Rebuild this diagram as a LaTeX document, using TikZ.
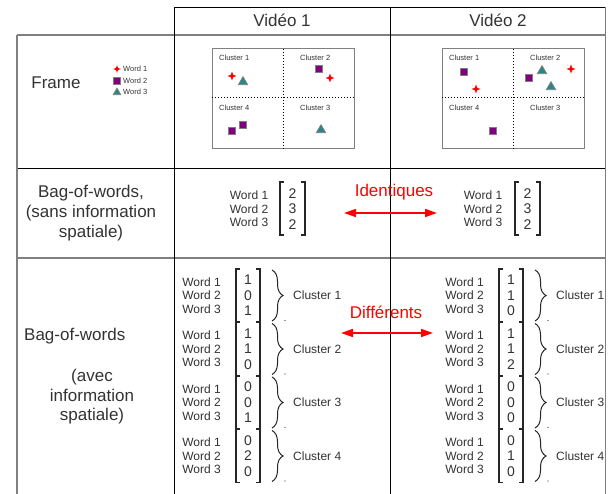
\documentclass[tikz,border=0pt]{standalone}
\usepackage{fontspec}
\setmainfont{Liberation Sans}
\usetikzlibrary{arrows.meta,shapes.geometric,decorations.pathreplacing}
\definecolor{txt}{HTML}{333333}
\definecolor{gline}{HTML}{808080}
\definecolor{vpurple}{HTML}{800080}
\definecolor{vteal}{HTML}{2E8585}
\tikzset{
  big/.style={font=\fontsize{17}{20}\selectfont, text=txt, align=center, inner sep=0},
  wordlist/.style={font=\fontsize{12}{13.5}\selectfont, text=txt, align=left, inner sep=0},
  numlist/.style={font=\fontsize{14}{15.5}\selectfont, text=txt, align=center, inner sep=0},
  cl/.style={font=\fontsize{12}{13}\selectfont, text=txt, inner sep=0, anchor=west},
  small/.style={font=\fontsize{7.5}{9}\selectfont, text=txt, inner sep=0, anchor=west},
  red lbl/.style={font=\fontsize{17}{20}\selectfont, text=red, inner sep=0},
  sq/.style={draw=gline, fill=vpurple, line width=1pt, minimum size=7.5pt, inner sep=0},
  tri/.style={regular polygon, regular polygon sides=3, draw=gline, fill=vteal, line width=0.6pt, minimum size=11pt, inner sep=0},
  st/.style={circle, minimum size=11pt, inner sep=0, draw=none,
    path picture={\fill[red] (path picture bounding box.center) ++(0,4.5) -- ++(1.2,-3.3) -- ++(3.3,-1.2) -- ++(-3.3,-1.2) -- ++(-1.2,-3.3) -- ++(-1.2,3.3) -- ++(-3.3,1.2) -- ++(3.3,1.2) -- cycle;
      \fill[red] (path picture bounding box.center) ++(-4,-4) circle (0.5) ++(8,0) circle (0.5) ++(0,8) circle (0.4);}},
  bline/.style={line width=0.9pt, black},
  gl/.style={line width=1.3pt, gline},
  brk/.style={line width=1.3pt, black!85},
  brc/.style={line width=1pt, black!85, decorate, decoration={brace, amplitude=11pt}},
  frm/.style={draw=gline, line width=1pt},
  dv/.style={black, dotted, line width=1pt},
  rarrow/.style={red, line width=1.6pt, {Triangle[length=12pt,width=8pt]}-{Triangle[length=12pt,width=8pt]}},
}
\begin{document}
\begin{tikzpicture}[x=1pt,y=-1pt]
\useasboundingbox (0,0) rectangle (611,494);
\fill[white] (0,0) rectangle (611,494);

% table lines
\coordinate (h0) at (174,7);
\coordinate (h1) at (605,7);
\draw[bline] (h0) -- (h1);
\coordinate (ll0) at (17,35); \coordinate (lr0) at (605,35);
\draw[gl] (ll0) -- (lr0);
\coordinate (ll1) at (17,168); \coordinate (lr1) at (605,168);
\draw[bline] (ll1) -- (lr1);
\coordinate (ll2) at (17,258); \coordinate (lr2) at (605,258);
\draw[gl] (ll2) -- (lr2);
\coordinate (lb) at (17,494);
\draw[gl] (ll0) -- (lb);
\coordinate (v1b) at (174,494); \draw[bline] (h0) -- (v1b);
\coordinate (v2t) at (390,7); \coordinate (v2b) at (390,494); \draw[bline] (v2t) -- (v2b);
\coordinate (v3b) at (605,494); \draw[gl, line width=1pt] (h1) -- (v3b);

% headers
\node[big] (hv1) at (282,20) {Vidéo 1};
\node[big] (hv2) at (498,20) {Vidéo 2};

% row labels
\node[big] (rframe) at (56,83) {Frame};
\node[big] (rbag) at (91,213) {Bag-of-words,\\(sans information\\spatiale)};
\node[big, anchor=west] (rbag2) at (24,336) {Bag-of-words};
\node[big, font=\fontsize{17}{19.5}\selectfont] (ravec) at (92,397) {(avec\\information\\spatiale)};

% legend
\node[st, scale=0.85] (lg1) at (117,69) {};
\node[small] (lgt1) at (123,69) {Word 1};
\node[sq, minimum size=7pt] (lg2) at (117,81) {};
\node[small] (lgt2) at (123,81) {Word 2};
\node[tri, minimum size=9pt] (lg3) at (117,92.5) {};
\node[small] (lgt3) at (123,92) {Word 3};

% frame video 1
\draw[frm] (212,49) rectangle (354,149);
\draw[dv] (283,49) -- (283,149);
\draw[dv] (212,98) -- (354,98);
\node[small] (f1c1) at (219,58) {Cluster 1};
\node[small] (f1c2) at (300,58) {Cluster 2};
\node[small] (f1c4) at (219,108) {Cluster 4};
\node[small] (f1c3) at (300,108) {Cluster 3};
\node[st] (a1) at (232,76) {};
\node[tri] (a2) at (243,82) {};
\node[sq] (a3) at (319,69) {};
\node[st] (a4) at (330,78) {};
\node[sq] (a5) at (232,131) {};
\node[sq] (a6) at (243,125) {};
\node[tri] (a7) at (321,130) {};

% frame video 2
\draw[frm] (442,49) rectangle (584,149);
\draw[dv] (513,49) -- (513,149);
\draw[dv] (442,98) -- (584,98);
\node[small] (f2c1) at (449,58) {Cluster 1};
\node[small] (f2c2) at (530,58) {Cluster 2};
\node[small] (f2c4) at (449,108) {Cluster 4};
\node[small] (f2c3) at (530,108) {Cluster 3};
\node[sq] (b1) at (464,72) {};
\node[st] (b2) at (476,89) {};
\node[sq] (b3) at (529,78) {};
\node[tri] (b4) at (542,71) {};
\node[tri] (b5) at (551,87) {};
\node[st] (b6) at (571,69) {};
\node[sq] (b7) at (493,131) {};

% bag without spatial info
\node[wordlist] (w1) at (249,209) {Word 1\\Word 2\\Word 3};
\node[numlist] (n1) at (292.5,209) {2\\3\\2};
\draw[brk] (284,182) -- (280,182) -- (280,235) -- (284,235);
\draw[brk] (301,182) -- (305,182) -- (305,235) -- (301,235);
\node[wordlist] (w2) at (483,209) {Word 1\\Word 2\\Word 3};
\node[numlist] (n2) at (527.5,209) {2\\3\\2};
\draw[brk] (519,182) -- (515,182) -- (515,235) -- (519,235);
\draw[brk] (536,182) -- (540,182) -- (540,235) -- (536,235);

\node[red lbl] (ident) at (394,192) {Identiques};
\coordinate (ia) at (344,213); \coordinate (ib) at (437,213);
\draw[rarrow] (ia) -- (ib);

% bag with spatial info
\foreach \v/\dx in {1/0, 2/263} {
  \foreach \g/\c in {1/295.5, 2/349, 3/402.5, 4/456} {
    \node[wordlist] (sw\v\g) at (201.5+\dx,\c) {Word 1\\Word 2\\Word 3};
    \draw[brk] (240+\dx,\c-26.5) -- (236+\dx,\c-26.5) -- (236+\dx,\c+26.5) -- (240+\dx,\c+26.5);
    \draw[brk] (256+\dx,\c-26.5) -- (260+\dx,\c-26.5) -- (260+\dx,\c+26.5) -- (256+\dx,\c+26.5);
    \draw[brc] (272+\dx,\c-25.5) -- (272+\dx,\c+25.5);
    \node[cl] (cl\v\g) at (293+\dx,\c) {Cluster \g};
    \fill[black!80] (285+\dx,\c+25) circle (0.6);
  }
}
\node[numlist] (sn11) at (248,295.5) {1\\0\\1};
\node[numlist] (sn12) at (248,349) {1\\1\\0};
\node[numlist] (sn13) at (248,402.5) {0\\0\\1};
\node[numlist] (sn14) at (248,456) {0\\2\\0};
\node[numlist] (sn21) at (511,295.5) {1\\1\\0};
\node[numlist] (sn22) at (511,349) {1\\1\\2};
\node[numlist] (sn23) at (511,402.5) {0\\0\\0};
\node[numlist] (sn24) at (511,456) {0\\1\\0};

\node[red lbl] (diff) at (386,312) {Différents};
\coordinate (da) at (341,333); \coordinate (db) at (433,333);
\draw[rarrow] (da) -- (db);
\end{tikzpicture}
\end{document}
